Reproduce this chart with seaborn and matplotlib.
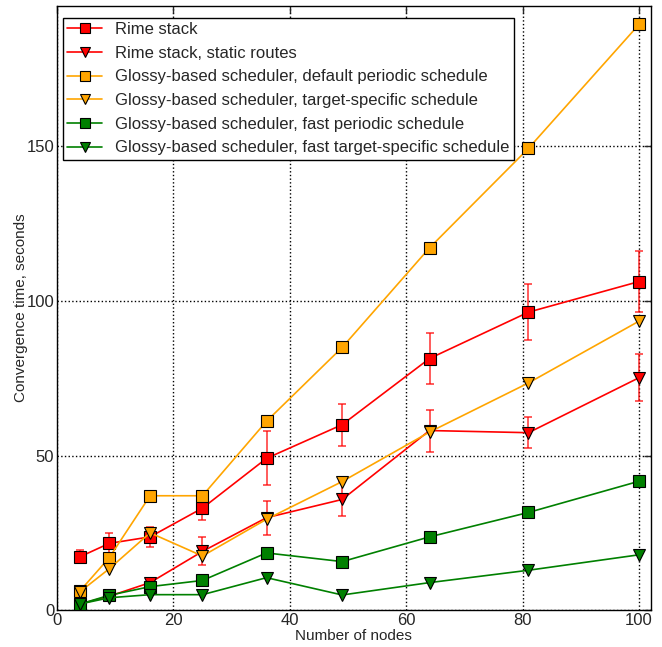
import matplotlib
matplotlib.use('Agg')
import matplotlib.pyplot as plt
import seaborn as sns

nodes = [4, 9, 16, 25, 36, 49, 64, 81, 100]

rime = [17.3, 21.6, 23.7, 33.0, 49.1, 60.0, 81.4, 96.4, 106.3]
rime_err = [2.0, 3.5, 3.3, 4.0, 8.7, 6.8, 8.4, 9.0, 9.8]
rime_static = [2.0, 4.5, 8.9, 19.0, 29.9, 35.8, 58.1, 57.4, 75.2]
rime_static_err = [1.5, 1.2, 1.5, 4.5, 5.5, 5.5, 6.8, 5.0, 7.5]
glossy_default = [6.3, 17.0, 37.0, 37.0, 61.1, 85.0, 117.2, 149.4, 189.5]
glossy_target = [6.0, 13.4, 25.0, 17.5, 29.4, 41.6, 57.6, 73.5, 93.5]
glossy_fast = [2.0, 4.8, 7.6, 9.6, 18.5, 15.7, 23.7, 31.6, 41.7]
glossy_fast_target = [2.0, 4.0, 5.0, 5.0, 10.5, 4.9, 8.9, 12.9, 17.9]

labels = [
    "Rime stack",
    "Rime stack, static routes",
    "Glossy-based scheduler, default periodic schedule",
    "Glossy-based scheduler, target-specific schedule",
    "Glossy-based scheduler, fast periodic schedule",
    "Glossy-based scheduler, fast target-specific schedule",
]

sns.set_style("white")
plt.rcParams['font.family'] = ['Liberation Sans', 'DejaVu Sans']
plt.rcParams['xtick.direction'] = 'in'
plt.rcParams['ytick.direction'] = 'in'

fig = plt.figure(figsize=(6.62, 6.47), dpi=100)
ax = fig.add_axes([0.086, 0.057, 0.897, 0.934])

series = [
    (rime, rime_err, 's', 'red'),
    (rime_static, rime_static_err, 'v', 'red'),
    (glossy_default, None, 's', 'orange'),
    (glossy_target, None, 'v', 'orange'),
    (glossy_fast, None, 's', 'green'),
    (glossy_fast_target, None, 'v', 'green'),
]

for (vals, err, mk, col), lab in zip(series, labels):
    if err is not None:
        ax.errorbar(nodes, vals, yerr=err, fmt='none', ecolor=col, alpha=0.75,
                    elinewidth=1.2, capsize=3, capthick=1.2, zorder=2)
    sns.lineplot(x=nodes, y=vals, marker=mk, color=col, markersize=8.5 if mk == 's' else 9,
                 markeredgecolor='black', markeredgewidth=0.8, linewidth=1.2,
                 label=lab, ax=ax, zorder=3)

ax.set_xlim(0, 102)
ax.set_ylim(0, 195.5)
ax.set_xticks([0, 20, 40, 60, 80, 100])
ax.set_yticks([0, 50, 100, 150])
ax.grid(True, linestyle=':', color='black', linewidth=1)
ax.tick_params(labelsize=12, length=5, width=1, pad=2, top=True, right=True)
for s in ax.spines.values():
    s.set_color('black')
    s.set_linewidth(1)
ax.set_xlabel('Number of nodes', fontsize=11, labelpad=1)
ax.set_ylabel('Convergence time, seconds', fontsize=11, labelpad=-1)

leg = ax.legend(loc='upper left', bbox_to_anchor=(0.01, 0.98), borderaxespad=0,
                fontsize=12, numpoints=1, fancybox=False,
                framealpha=1, edgecolor='black', handlelength=2.1,
                handletextpad=0.8, borderpad=0.25, labelspacing=0.52)
leg.get_frame().set_linewidth(1)
for h in leg.legend_handles:
    h.set_markersize(7.5)

plt.savefig('out.png', dpi=100)
plt.close()
